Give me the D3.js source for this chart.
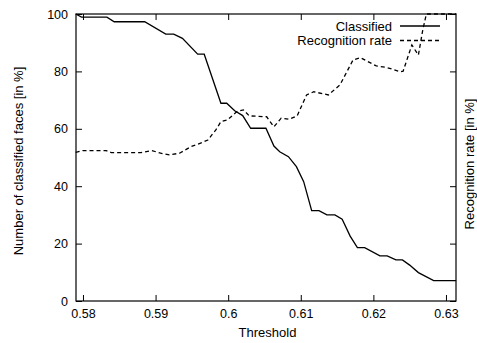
<!DOCTYPE html>
<html>
<head>
<meta charset="utf-8">
<script src="https://cdn.jsdelivr.net/npm/d3@7"></script>
<style>
  body { margin: 0; background: #fff; }
  svg text { font-family: "Liberation Sans", Arial, sans-serif; }
</style>
</head>
<body>
<div id="chart"></div>
<script>
// threshold values (x) and percentages
const classifiedX = [0.5790, 0.5798, 0.5833, 0.5843, 0.5885, 0.5914, 0.5925, 0.5937, 0.5958, 0.5967,
  0.5990, 0.5998, 0.6009, 0.6020, 0.6031, 0.6052, 0.6063, 0.6071, 0.6083, 0.6094,
  0.6104, 0.6115, 0.6125, 0.6136, 0.6147, 0.6157, 0.6168, 0.6178, 0.6188, 0.6209,
  0.6219, 0.6231, 0.6240, 0.6250, 0.6262, 0.6283, 0.6314];
const classifiedY = [100, 98.9, 98.9, 97.3, 97.3, 93.0, 93.0, 91.5, 86.0, 86.0,
  68.9, 68.9, 66.3, 64.6, 60.2, 60.2, 54.0, 52.0, 50.3, 46.8,
  41.6, 31.5, 31.5, 30.0, 30.0, 28.5, 22.6, 18.6, 18.6, 15.7,
  15.7, 14.3, 14.3, 12.5, 9.9, 7.1, 7.1];

const recogX = [0.5790, 0.5800, 0.5832, 0.5839, 0.5880, 0.5895, 0.5907, 0.5919, 0.5933, 0.5949,
  0.5964, 0.5972, 0.5983, 0.5990, 0.5999, 0.6012, 0.6021, 0.6029, 0.6053, 0.6063,
  0.6073, 0.6084, 0.6095, 0.6108, 0.6118, 0.6138, 0.6154, 0.6172, 0.6182, 0.6204,
  0.6218, 0.6237, 0.6241, 0.6253, 0.6262, 0.6268, 0.6273, 0.6314];
const recogY = [51.8, 52.4, 52.4, 51.7, 51.7, 52.4, 51.5, 50.9, 51.5, 53.8,
  55.2, 56.1, 59.6, 62.5, 63.1, 66.0, 66.6, 64.5, 64.2, 60.7,
  63.7, 63.3, 64.5, 71.8, 72.9, 71.8, 75.3, 84.0, 84.8, 81.9,
  81.4, 79.9, 80.1, 89.2, 85.7, 94.4, 100, 100];

const xTicks = [0.58, 0.59, 0.6, 0.61, 0.62, 0.63];
const yTicks = [0, 20, 40, 60, 80, 100];

const W = 477, H = 343;
const margin = {left: 76, right: 21, top: 14, bottom: 42};
const w = W - margin.left - margin.right;
const h = H - margin.top - margin.bottom;

const svg = d3.select("#chart").append("svg")
  .attr("width", W)
  .attr("height", H);

const g = svg.append("g")
  .attr("transform", "translate(" + margin.left + "," + margin.top + ")");

let x = d3.scaleLinear().domain([0.57904, 0.63138]).range([0, w]);
let y = d3.scaleLinear().domain([0, 100]).range([h, 0]);

g.append("g")
  .attr("transform", "translate(0," + h + ")")
  .call(d3.axisBottom(x).tickValues(xTicks).tickSizeInner(-6).tickSizeOuter(0).tickPadding(8)
    .tickFormat(d3.format("")));

g.append("g")
  .call(d3.axisLeft(y).tickValues(yTicks).tickSizeInner(-6).tickSizeOuter(0).tickPadding(8));

g.append("g")
  .call(d3.axisTop(x).tickValues(xTicks).tickSizeInner(-6).tickSizeOuter(0).tickFormat(""));

g.append("g")
  .attr("transform", "translate(" + w + ",0)")
  .call(d3.axisRight(y).tickValues(yTicks).tickSizeInner(-6).tickSizeOuter(0).tickFormat(""));

g.selectAll(".domain").remove();
g.selectAll(".tick line").attr("stroke", "#000").attr("stroke-width", 1);
g.selectAll(".tick text").attr("font-size", 12.5).attr("fill", "#000")
  .style("font-family", "Liberation Sans, Arial, sans-serif");

g.append("rect")
  .attr("width", w).attr("height", h)
  .attr("fill", "none").attr("stroke", "#000").attr("stroke-width", 1.2);

let line = d3.line()
  .x(function(d) { return x(d[0]); })
  .y(function(d) { return y(d[1]); });

g.append("path")
  .datum(d3.zip(classifiedX, classifiedY))
  .attr("d", line)
  .attr("fill", "none").attr("stroke", "#000").attr("stroke-width", 1.3);

g.append("path")
  .datum(d3.zip(recogX, recogY))
  .attr("d", line)
  .attr("fill", "none").attr("stroke", "#000").attr("stroke-width", 1.3)
  .attr("stroke-dasharray", "4,3");

// legend
const legend = [["Classified", null], ["Recognition rate", "4,3"]];
legend.forEach(function(l, i) {
  let ly = 26 + i * 14.5;
  svg.append("text")
    .attr("x", 392).attr("y", ly).attr("dy", "0.35em")
    .attr("text-anchor", "end").attr("font-size", 13)
    .text(l[0]);
  svg.append("line")
    .attr("x1", 400).attr("x2", 440).attr("y1", ly).attr("y2", ly)
    .attr("stroke", "#000").attr("stroke-width", 1.3)
    .attr("stroke-dasharray", l[1]);
});

// axis titles
svg.append("text")
  .attr("x", 267.5).attr("y", 337)
  .attr("text-anchor", "middle").attr("font-size", 13)
  .text("Threshold");

svg.append("text")
  .attr("transform", "translate(23,161) rotate(-90)")
  .attr("text-anchor", "middle").attr("font-size", 13)
  .text("Number of classified faces [in %]");

svg.append("text")
  .attr("transform", "translate(473.5,164) rotate(-90)")
  .attr("text-anchor", "middle").attr("font-size", 13)
  .text("Recognition rate [in %]");
</script>
</body>
</html>
